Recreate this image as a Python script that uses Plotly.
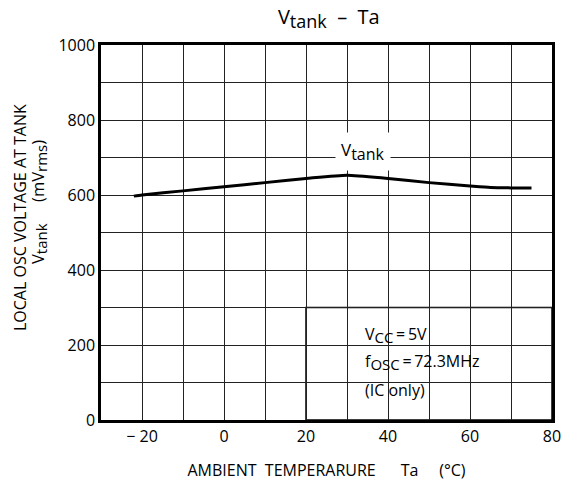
import plotly.graph_objects as go

# Data
temps = [-22, -20, -10, 0, 10, 20, 30, 40, 50, 60, 65, 70, 75]
vtank = [597, 600, 611, 622, 633, 644, 653, 644, 633, 624, 620, 619, 619]

x_ticks = [-20, 0, 20, 40, 60, 80]
x_tick_labels = ["\u2212 20", "0", "20", "40", "60", "80"]
y_ticks = [0, 200, 400, 600, 800, 1000]

FONT = "Open Sans"
NB = "\u00a0"


def sub(txt, size):
    return "<sub><span style='font-size:%dpx'>%s</span></sub>" % (size, txt)


fig = go.Figure()
fig.add_trace(go.Scatter(x=temps, y=vtank, mode="lines",
                         line=dict(color="black", width=3, shape="spline", smoothing=0.6),
                         showlegend=False, hoverinfo="skip"))

# white box with conditions (covers grid)
fig.add_shape(type="rect", x0=20, x1=80, y0=0, y1=300, xref="x", yref="y",
              fillcolor="white", line=dict(color="black", width=1.5), layer="below")

fig.add_annotation(x=34, y=715, xref="x", yref="y", text="V" + sub("tank", 16),
                   showarrow=False, bgcolor="white", font=dict(size=17, color="black", family=FONT),
                   borderpad=5)

cond = ["V" + sub("CC", 15) + "\u2009=\u20095V", "f" + sub("OSC", 15) + "\u2009=\u200972.3MHz", "(IC" + NB + "only)"]
cond_y = [228, 155, 80]
for t, yy in zip(cond, cond_y):
    fig.add_annotation(x=34, y=yy, xref="x", yref="y", text=t, showarrow=False,
                       xanchor="left", font=dict(size=16, color="black", family=FONT))

# y-axis titles (pixel positions, converted below)
fig.add_annotation(x=20, y=218, xref="paper", yref="paper", text="LOCAL OSC VOLTAGE AT TANK",
                   xanchor="center", yanchor="middle",
                   showarrow=False, textangle=-90, font=dict(size=16, color="black", family=FONT))
fig.add_annotation(x=38, y=202, xref="paper", yref="paper",
                   text="V" + sub("tank", 15) + NB * 5 + "(mV" + sub("rms", 15) + ")",
                   xanchor="center", yanchor="middle",
                   showarrow=False, textangle=-90, font=dict(size=16.5, color="black", family=FONT))

fig.update_layout(
    width=562, height=481,
    margin=dict(l=101, r=10, t=45, b=61),
    paper_bgcolor="white", plot_bgcolor="white",
    title=dict(text="V" + sub("tank", 18) + NB * 2 + "\u2013" + NB * 2 + "Ta", x=0.585, xanchor="center",
               y=0.965, yanchor="middle", font=dict(size=20, color="black", family=FONT),
               automargin=False),
    xaxis=dict(range=[-30, 80], tickvals=x_ticks, ticktext=x_tick_labels, automargin=False,
               showgrid=True, gridcolor="#222", gridwidth=1,
               minor=dict(dtick=10, showgrid=True, gridcolor="#222", gridwidth=1),
               showline=True, linecolor="black", linewidth=2.5, mirror=True,
               ticks="", zeroline=False,
               tickfont=dict(size=16, color="black", family=FONT),
               title=dict(text="AMBIENT" + NB * 2 + "TEMPERARURE" + NB * 6 + "Ta" + NB * 5 + "(\u00b0C)",
                          font=dict(size=16, color="black", family=FONT), standoff=22)),
    yaxis=dict(range=[0, 1000], tickvals=y_ticks, automargin=False,
               showgrid=True, gridcolor="#222", gridwidth=1,
               minor=dict(dtick=100, showgrid=True, gridcolor="#222", gridwidth=1),
               showline=True, linecolor="black", linewidth=2.5, mirror=True,
               ticks="", zeroline=False,
               tickfont=dict(size=16, color="black", family=FONT)),
)

W, H = 562, 481
l, r, t, b = 101, 10, 45, 61
pw, ph = W - l - r, H - t - b
for a in fig.layout.annotations:
    if a.xref == "paper":
        a.x = (a.x - l) / pw
        a.y = (H - b - a.y) / ph

fig.write_html("out.html", config={"displayModeBar": False},
               post_script="document.body.style.margin='0';")
